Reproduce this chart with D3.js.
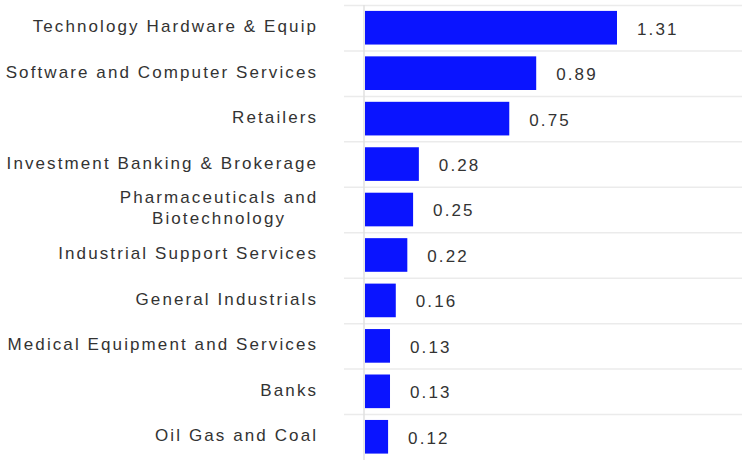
<!DOCTYPE html>
<html><head><meta charset="utf-8">
<script src="https://cdn.jsdelivr.net/npm/d3@7"></script>
<style>body{margin:0;background:#fff;}svg{display:block;}</style>
</head><body>
<script>
const categories = ["Technology Hardware & Equip","Software and Computer Services","Retailers","Investment Banking & Brokerage","Pharmaceuticals and Biotechnology","Industrial Support Services","General Industrials","Medical Equipment and Services","Banks","Oil Gas and Coal"];
const labelLines = [["Technology Hardware & Equip"],["Software and Computer Services"],["Retailers"],["Investment Banking & Brokerage"],["Pharmaceuticals and","Biotechnology"],["Industrial Support Services"],["General Industrials"],["Medical Equipment and Services"],["Banks"],["Oil Gas and Coal"]];
const values = [1.31,0.89,0.75,0.28,0.25,0.22,0.16,0.13,0.13,0.12];

const W=742,H=460;
const FONT="Liberation Sans, Arial, sans-serif", FS=17, LS=2.1;
const svg=d3.select("body").append("svg").attr("width",W).attr("height",H);
const x=d3.scaleLinear().domain([0,1.31]).range([365,617]);
const y=d3.scaleBand().domain(categories).range([5,459.5]).paddingInner(0.26).paddingOuter(0.13);
const step=y.step();

const bounds=d3.range(categories.length).map(i=>5+i*step);
svg.selectAll("line.grid").data(bounds).enter().append("line")
 .attr("x1",344).attr("x2",W).attr("y1",d=>d+0.5).attr("y2",d=>d+0.5)
 .attr("stroke","#ebebeb").attr("stroke-width",1.5);

svg.append("line").attr("x1",364).attr("x2",364).attr("y1",5).attr("y2",H)
 .attr("stroke","#e0e0e0").attr("stroke-width",1.5);

svg.selectAll("rect.bar").data(values).enter().append("rect")
 .attr("x",x(0)).attr("y",(d,i)=>y(categories[i]))
 .attr("width",d=>x(d)-x(0)).attr("height",y.bandwidth())
 .attr("fill","#0a14ff");

svg.selectAll("text.val").data(values).enter().append("text")
 .attr("x",d=>x(d)+20).attr("y",(d,i)=>y(categories[i])+y.bandwidth()/2+1)
 .attr("dy","0.35em").attr("font-family",FONT).attr("letter-spacing",LS)
 .attr("font-size",FS).attr("fill","#333").text(d=>d.toFixed(2));

const lab=svg.selectAll("text.cat").data(labelLines).enter().append("text")
 .attr("font-family",FONT).attr("font-size",FS).attr("fill","#333").attr("letter-spacing",LS)
 .attr("text-anchor",(d)=>d.length>1?"middle":"end");
lab.each(function(lines,i){
  const cy=y(categories[i])+y.bandwidth()/2 - 1.5;
  const t=d3.select(this);
  if(lines.length===1){
    t.append("tspan").attr("x",316+LS).attr("y",cy).attr("dy","0.35em").text(lines[0]);
  } else {
    lines.forEach((l,j)=>{
      t.append("tspan").attr("x",218+LS/2).attr("y",cy+(j-0.5)*21).attr("dy","0.35em").text(l);
    });
  }
});
</script>
</body></html>
